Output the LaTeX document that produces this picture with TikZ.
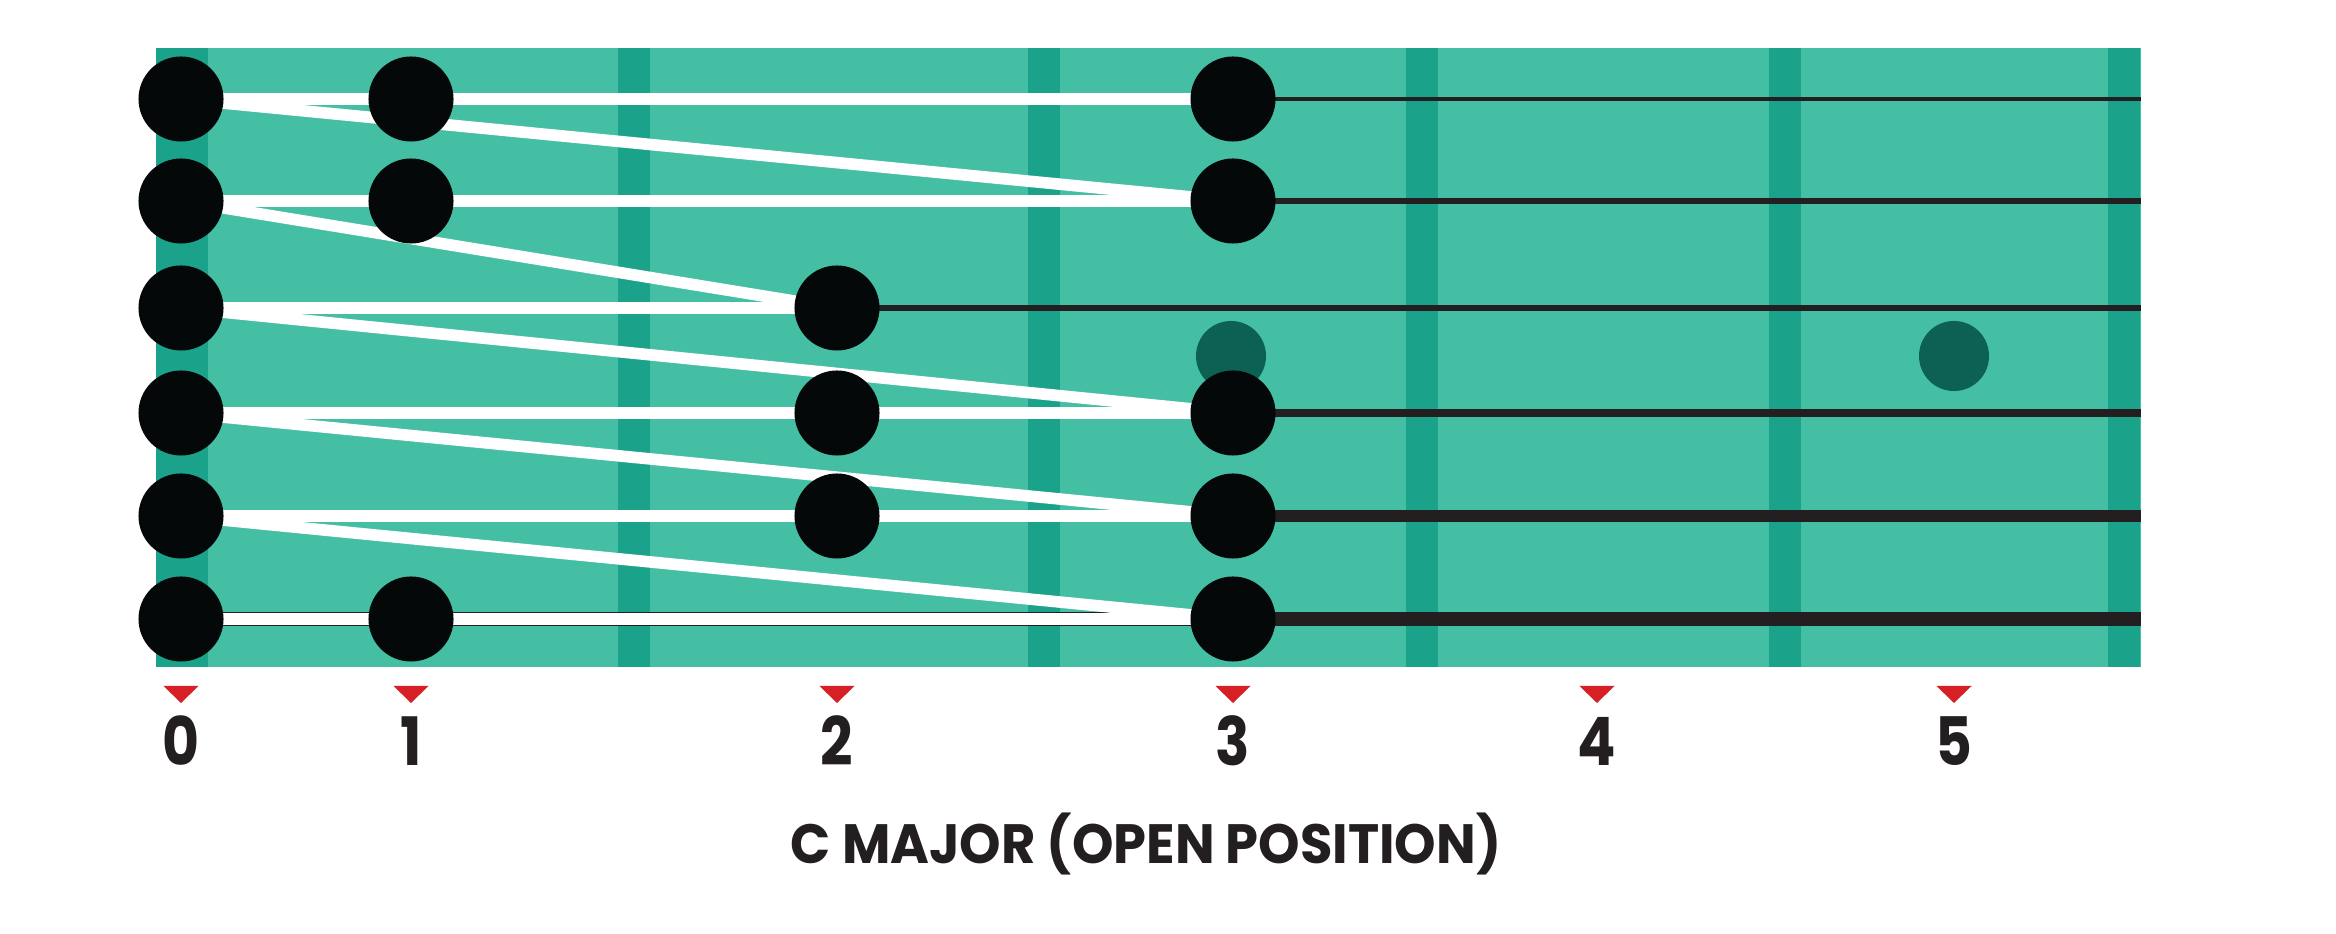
\documentclass[tikz,border=0pt]{standalone}
\usepackage{fontspec}
\setmainfont{Poppins}
\usepackage{graphicx,xcolor}
\usepackage{tikz}
\usetikzlibrary{backgrounds}

\definecolor{boardteal}{RGB}{69,191,164}
\definecolor{fretteal}{RGB}{26,163,138}
\definecolor{inlayteal}{RGB}{12,97,82}
\definecolor{notedark}{RGB}{5,8,8}
\definecolor{stringdark}{RGB}{35,31,32}
\definecolor{markred}{RGB}{215,31,38}

\tikzset{
  note/.style={circle,fill=notedark,minimum size=0.85cm,inner sep=0pt},
  inlay/.style={circle,fill=inlayteal,minimum size=0.7cm,inner sep=0pt},
  scalepath/.style={white,line width=3.3pt,line join=round},
  fretnum/.style={text=stringdark,inner sep=0pt,font=\bfseries\fontsize{19}{19}\selectfont},
  caption/.style={text=stringdark,inner sep=0pt,font=\bfseries\fontsize{15}{15}\selectfont}
}

\begin{document}
\begin{tikzpicture}[x=0.01cm,y=-0.01cm]
\useasboundingbox (0,0) rectangle (2336,934);
\begin{pgfonlayer}{background}
% fretboard
\fill[boardteal] (156,48) rectangle (2141,667);
\fill[fretteal] (156,48) rectangle (208,667);
\foreach \fx in {618,1028,1406,1769,2108}
  \fill[fretteal] (\fx,48) rectangle (\fx+32,667);
\node[inlay] (inlayA) at (1231,356) {};
\node[inlay] (inlayB) at (1954,356) {};
% strings, thin to thick
\foreach \sy/\sw [count=\sn] in {99/1pt,201/1.5pt,308/1.85pt,413/2.2pt,516/3.2pt,619/3.9pt}{
  \coordinate (str\sn a) at (156,\sy);
  \coordinate (str\sn b) at (2141,\sy);
  \draw[stringdark,line width=\sw] (str\sn a) -- (str\sn b);
}
\end{pgfonlayer}
% notes
\node[note] (s1f0) at (181,99) {};  \node[note] (s1f1) at (411,99) {};  \node[note] (s1f3) at (1233,99) {};
\node[note] (s2f0) at (181,201) {}; \node[note] (s2f1) at (411,201) {}; \node[note] (s2f3) at (1233,201) {};
\node[note] (s3f0) at (181,308) {}; \node[note] (s3f2) at (837,308) {};
\node[note] (s4f0) at (181,413) {}; \node[note] (s4f2) at (837,413) {}; \node[note] (s4f3) at (1233,413) {};
\node[note] (s5f0) at (181,516) {}; \node[note] (s5f2) at (837,516) {}; \node[note] (s5f3) at (1233,516) {};
\node[note] (s6f0) at (181,619) {}; \node[note] (s6f1) at (411,619) {}; \node[note] (s6f3) at (1233,619) {};
% scale path, under the notes
\begin{pgfonlayer}{background}
\draw[scalepath] (s6f0.center) -- (s6f3.center) -- (s5f0.center) -- (s5f3.center)
  -- (s4f0.center) -- (s4f3.center) -- (s3f0.center) -- (s3f2.center)
  -- (s2f0.center) -- (s2f3.center) -- (s1f0.center) -- (s1f3.center);
\end{pgfonlayer}
% fret numbers
\foreach \lx/\lt [count=\ln from 0] in {181/0,411/1,837/2,1233/3,1597/4,1954/5}{
  \fill[markred] (\lx-17.5,686) -- (\lx+17.5,686) -- (\lx,703) -- cycle;
  \node[fretnum] (num\ln) at (\lx,741) {\scalebox{0.85}[1]{\lt}};
}
\node[caption] (title) at (1146,844) {\scalebox{1}[1.05]{C MAJOR (OPEN POSITION)}};
\end{tikzpicture}
\end{document}
